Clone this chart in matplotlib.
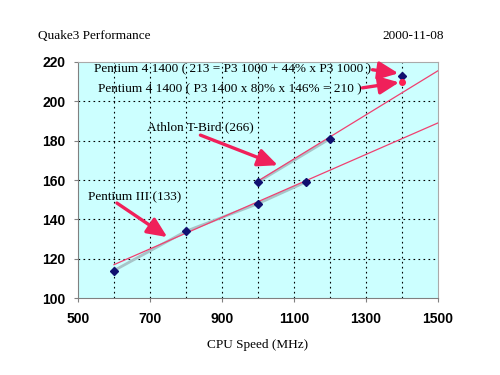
import matplotlib
matplotlib.use("Agg")
import matplotlib.pyplot as plt

# Data
p3_mhz = [600, 800, 1000, 1133]
p3_fps = [114, 134, 148, 159]
athlon_mhz = [1000, 1200]
athlon_fps = [159, 181]
p4_mhz = [1400]
p4_actual = [213]
p4_estimate = [210]
p3_trend_x = [600, 1500]
p3_trend_y = [117, 189]
athlon_trend_x = [1000, 1500]
athlon_trend_y = [159.5, 215.5]
x_ticks = [500, 700, 900, 1100, 1300, 1500]
y_ticks = [100, 120, 140, 160, 180, 200, 220]

serif = "Liberation Serif"
sans = "Liberation Sans"

fig = plt.figure(figsize=(5, 3.75), dpi=100)
ax = fig.add_axes([0.156, 0.205, 0.72, 0.63])
ax.set_facecolor("#ccffff")

ax.set_xlim(500, 1500)
ax.set_ylim(100, 220)
ax.set_xticks(x_ticks)
ax.set_yticks(y_ticks)
ax.set_xticks(range(600, 1500, 100), minor=True)
for x in range(600, 1500, 100):
    ax.axvline(x, color="black", lw=0.8, ls=(0, (1.5, 3)), zorder=1)
for y in y_ticks[1:-1]:
    ax.axhline(y, color="black", lw=0.8, ls=(0, (1.5, 3)), zorder=1)
ax.tick_params(axis="both", which="major", length=3, color="gray", labelsize=10)
ax.tick_params(axis="x", which="major", pad=7)
ax.tick_params(axis="y", which="major", pad=6)
ax.tick_params(axis="x", which="minor", length=0)
for lab in ax.get_xticklabels() + ax.get_yticklabels():
    lab.set_fontfamily(sans)
    lab.set_fontweight("bold")
for s in ax.spines.values():
    s.set_color("gray")
    s.set_linewidth(0.8)
ax.spines["top"].set_color("#aaaaaa")
ax.spines["right"].set_color("#aaaaaa")

# series lines
ax.plot(p3_mhz, p3_fps, color="#a8c4c8", lw=2, zorder=2)
ax.plot(athlon_mhz, athlon_fps, color="#a8c4c8", lw=2, zorder=2)
ax.plot(p3_trend_x, p3_trend_y, color="#f04070", lw=0.9, zorder=3)
ax.plot(athlon_trend_x, athlon_trend_y, color="#f04070", lw=0.9, zorder=3)
ax.plot(p3_mhz, p3_fps, ls="none", marker="D", ms=4, color="#101070", zorder=4)
ax.plot(athlon_mhz, athlon_fps, ls="none", marker="D", ms=4, color="#101070", zorder=4)
ax.plot(p4_mhz, p4_actual, ls="none", marker="D", ms=4, color="#101070", zorder=4)
ax.plot(p4_mhz, p4_estimate, ls="none", marker="o", ms=4, color="#ff2050", zorder=4)

arrow = dict(arrowstyle="-|>,head_length=1.0,head_width=0.45", color="#f0205a", lw=2.4,
             shrinkA=0, shrinkB=0, mutation_scale=12)

ax.text(928, 216, "Pentium 4 1400 ( 213 = P3 1000 + 44% x P3 1000 )", ha="center", va="center",
        fontsize=9.5, fontfamily=serif, zorder=5)
ax.annotate("", xy=(1390, 214.2), xytext=(1318, 216), arrowprops=arrow, zorder=5)

ax.text(922, 206.3, "Pentium 4 1400 ( P3 1400 x 80% x 146% = 210 )", ha="center", va="center",
        fontsize=9.5, fontfamily=serif, zorder=5)
ax.annotate("", xy=(1392, 209.6), xytext=(1290, 206.8), arrowprops=arrow, zorder=5)

ax.text(839, 187, "Athlon T-Bird (266)", ha="center", va="center",
        fontsize=9.5, fontfamily=serif, zorder=5)
ax.annotate("", xy=(1055, 167.5), xytext=(840, 182.8), arrowprops=arrow, zorder=5)

ax.text(658, 151, "Pentium III (133)", ha="center", va="center",
        fontsize=9.5, fontfamily=serif, zorder=5)
ax.annotate("", xy=(748, 131), xytext=(608, 148.3), arrowprops=arrow, zorder=5)

ax.set_xlabel("CPU Speed (MHz)", fontsize=9.5, fontfamily=serif, labelpad=9)

fig.text(0.076, 0.905, "Quake3 Performance", fontsize=9.5, fontfamily=serif, va="center")
fig.text(0.887, 0.905, "2000-11-08", fontsize=9.5, fontfamily=serif, va="center", ha="right")

fig.savefig("out.png", dpi=100)
